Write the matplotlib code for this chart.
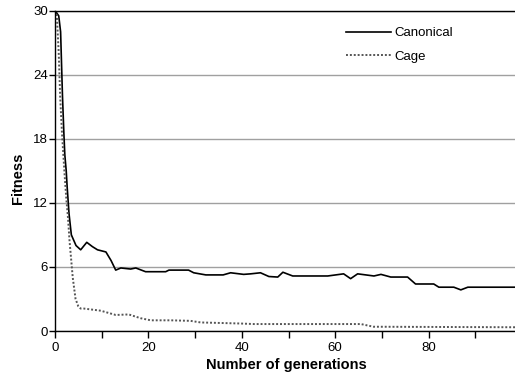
import matplotlib
matplotlib.use("Agg")
import matplotlib.pyplot as plt

# Canonical run (solid)
canon_gen = [0, 0.8, 1.2, 1.4, 1.6, 1.9, 2.1, 2.4, 2.6, 3.0, 3.5, 4.5, 5.5, 6.8,
             8.0, 9.1, 10.9, 12.0, 13.0, 14.1, 16.2, 17.3, 19.4, 23.7, 24.4, 28.6,
             29.7, 32.3, 36.0, 37.6, 40.4, 41.9, 44.0, 45.8, 47.7, 48.8, 50.9,
             58.4, 61.8, 63.3, 64.8, 68.3, 69.8, 71.9, 75.5, 77.2, 81.1, 82.2,
             85.4, 86.9, 88.4, 99]
canon_fit = [30, 29.5, 28, 25, 22, 18.5, 16.5, 15, 13.5, 11, 9.0, 8.0, 7.6, 8.3,
             7.9, 7.6, 7.4, 6.6, 5.7, 5.9, 5.8, 5.9, 5.55, 5.55, 5.7, 5.7,
             5.45, 5.25, 5.25, 5.45, 5.3, 5.35, 5.45, 5.1, 5.05, 5.5, 5.15,
             5.15, 5.35, 4.9, 5.35, 5.15, 5.3, 5.05, 5.05, 4.4, 4.4, 4.1,
             4.1, 3.85, 4.1, 4.1]

# Cage run (dotted)
cage_gen = [0, 0.4, 0.8, 1.1, 1.5, 2.0, 2.4, 2.8, 3.1, 3.5, 3.8, 4.4, 5.0, 5.5,
            6.2, 9.8, 13.0, 15.8, 18.3, 20.5, 24.8, 29.0, 31.2, 35.5, 39.8,
            42.6, 65.5, 68.2, 99]
cage_fit = [30, 29.5, 26, 22, 18.5, 15, 12.5, 10.5, 8.5, 6.5, 5.0, 3.0, 2.3, 2.1,
            2.1, 1.9, 1.5, 1.55, 1.2, 1.0, 1.0, 0.95, 0.8, 0.75, 0.7,
            0.65, 0.65, 0.4, 0.35]

y_ticks = [0, 6, 12, 18, 24, 30]
x_ticks = [0, 20, 40, 60, 80]

plt.rcParams['font.family'] = ['Liberation Sans', 'DejaVu Sans']

fig = plt.figure(figsize=(5.15, 3.81), dpi=100)
ax = fig.add_axes([55 / 515, 1 - 331 / 381, 460 / 515, 320.5 / 381])

ax.plot(canon_gen, canon_fit, color='black', lw=1.2, label='Canonical')
ax.plot(cage_gen, cage_fit, color='#555555', lw=1.4, linestyle=(0, (1, 1)),
        label='Cage')

ax.set_xlim(0, 98.5)
ax.set_ylim(0, 30)
ax.set_yticks(y_ticks)
ax.set_xticks(x_ticks)
ax.set_xticks([10, 30, 50, 70, 90], minor=True)
ax.tick_params(axis='both', labelsize=9.5, direction='out', color='black')
ax.tick_params(axis='y', length=4, width=1, pad=1)
ax.tick_params(axis='x', which='both', length=5, width=1, pad=3)

ax.grid(axis='y', color='#a0a0a0', lw=1)
ax.set_axisbelow(True)
for side in ['left', 'bottom', 'top']:
    ax.spines[side].set_color('black')
    ax.spines[side].set_linewidth(1)
ax.spines['right'].set_visible(False)

ax.set_xlabel('Number of generations', fontsize=10.5, fontweight='bold')
ax.set_ylabel('Fitness', fontsize=10.5, fontweight='bold')
ax.xaxis.set_label_coords(0.504, -0.084)
ax.yaxis.set_label_coords(-0.065, 0.477)

leg = ax.legend(loc='upper left', bbox_to_anchor=(0.622, 0.965), frameon=False,
                fontsize=9.5, handlelength=3.4, handletextpad=0.2, labelspacing=0.85,
                borderaxespad=0)
leg.set_zorder(5)

fig.savefig('out.png', dpi=100)
